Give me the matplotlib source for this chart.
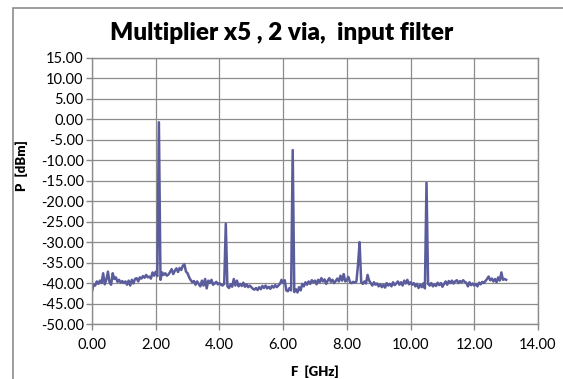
import numpy as np
import matplotlib.pyplot as plt
from matplotlib.patches import Rectangle

# spectrum, 0.05 GHz step from 0 to 13 GHz
f_start = 0.0
f_step = 0.05
p_dbm = [
    # 0.00 - 0.95
    -42.0, -40.3, -40.6, -39.6, -40.2, -39.4, -40.0, -37.6, -40.3, -39.2,
    -37.2, -39.8, -40.4, -37.6, -39.0, -38.6, -39.7, -39.2, -39.9, -39.5,
    # 1.00 - 1.95
    -40.0, -39.6, -40.4, -39.4, -40.6, -39.2, -40.1, -39.0, -38.8, -39.6,
    -38.6, -38.9, -38.3, -38.7, -38.0, -38.6, -38.4, -38.9, -37.4, -38.2,
    # 2.00 - 2.95
    -37.2, -38.3, -0.7, -39.2, -37.4, -38.0, -37.6, -38.2, -37.9, -37.3,
    -36.6, -37.8, -37.0, -36.4, -37.3, -36.3, -36.8, -35.8, -35.4, -37.2,
    # 3.00 - 3.95
    -37.6, -38.6, -39.3, -39.8, -39.5, -40.4, -39.6, -40.2, -40.8, -39.4,
    -40.6, -39.0, -41.3, -39.4, -40.0, -39.2, -40.4, -40.1, -39.7, -40.3,
    # 4.00 - 4.95
    -40.0, -40.4, -40.6, -40.2, -25.5, -40.8, -41.2, -40.3, -40.9, -39.0,
    -40.6, -39.4, -40.8, -40.2, -40.7, -39.9, -40.9, -40.3, -41.0, -40.6,
    # 5.00 - 5.95
    -41.0, -41.4, -41.6, -41.2, -41.7, -41.0, -41.5, -40.7, -41.2, -40.6,
    -41.3, -40.9, -41.4, -40.7, -41.1, -40.5, -41.0, -40.6, -40.2, -39.2,
    # 6.00 - 6.95
    -40.0, -39.3, -41.8, -42.0, -41.2, -41.8, -7.5, -42.2, -41.5, -42.3,
    -41.0, -41.8, -40.2, -40.8, -39.8, -40.4, -39.6, -40.2, -39.3, -39.8,
    # 7.00 - 7.95
    -39.4, -40.3, -39.2, -39.8, -38.8, -39.6, -39.1, -40.2, -39.4, -38.8,
    -39.7, -39.2, -40.0, -39.5, -38.9, -39.6, -38.2, -39.4, -37.8, -39.6,
    # 8.00 - 8.95
    -39.2, -38.5, -39.8, -40.0, -39.7, -39.9, -39.6, -35.5, -30.0, -39.8,
    -40.2, -39.6, -40.1, -38.0, -39.4, -40.0, -40.6, -39.8, -40.4, -40.1,
    # 9.00 - 9.95
    -40.8, -40.3, -41.0, -40.4, -41.1, -40.0, -40.6, -40.2, -40.8, -39.8,
    -40.5, -40.1, -39.6, -40.4, -39.8, -40.6, -39.4, -40.1, -39.2, -40.3,
    # 10.00 - 10.95
    -39.8, -40.4, -40.0, -40.8, -40.2, -41.2, -40.4, -41.0, -40.1, -41.3,
    -15.5, -40.2, -40.6, -40.0, -40.8, -40.3, -40.7, -39.9, -40.5, -40.0,
    # 11.00 - 11.95
    -40.9, -40.2, -39.6, -40.4, -39.5, -40.0, -39.4, -40.1, -39.6, -39.3,
    -40.0, -39.5, -39.8, -39.3, -39.7, -39.9, -40.8, -39.8, -40.5, -40.1,
    # 12.00 - 12.95
    -40.6, -40.2, -40.8, -39.9, -40.3, -39.7, -40.0, -39.5, -39.0, -38.4,
    -39.3, -38.9, -39.6, -39.0, -39.8, -38.6, -39.4, -37.4, -39.2, -39.0,
    # 13.00
    -39.2,
]
freq_ghz = f_start + f_step * np.arange(len(p_dbm))

x_ticks = [0, 2, 4, 6, 8, 10, 12, 14]
y_ticks = list(range(-50, 16, 5))

plt.rcParams['font.family'] = ['Lato', 'DejaVu Sans']

fig = plt.figure(figsize=(5.63, 3.79), dpi=100)
ax = fig.add_axes([92 / 563, 1 - 324 / 379, 446 / 563, 266 / 379])

ax.plot(freq_ghz, p_dbm, color='#5b5c9c', lw=1.8)

ax.set_xlim(0, 14)
ax.set_ylim(-50, 15)
ax.set_xticks(x_ticks)
ax.set_yticks(y_ticks)
ax.set_xticklabels(['%.2f' % v for v in x_ticks])
ax.set_yticklabels(['%.2f' % v for v in y_ticks])
ax.tick_params(axis='both', labelsize=10.5, color='#888888', length=4, width=1, labelcolor='#000000')
ax.tick_params(axis='x', pad=6)
ax.tick_params(axis='y', pad=2)
ax.grid(True, color='#8c8c8c', lw=0.9)
ax.set_axisbelow(True)
for s in ax.spines.values():
    s.set_color('#8c8c8c')
    s.set_linewidth(1)

fig.text(282 / 563, 1 - 33 / 379, 'Multiplier x5 , 2 via,  input filter',
         ha='center', va='center', fontsize=17.5, fontweight='heavy')
fig.text(315 / 563, 1 - 372 / 379, 'F  [GHz]', ha='center', va='center',
         fontsize=9.5, fontweight='heavy')
fig.text(22 / 563, 1 - 166 / 379, 'P  [dBm]', ha='center', va='center',
         rotation=90, fontsize=9.5, fontweight='heavy')

# outer chart frame
fig.add_artist(Rectangle((13 / 563, -0.2), 1.2, 1 - 8 / 379 + 0.2,
                         transform=fig.transFigure, fill=False,
                         edgecolor='#8c8c8c', lw=1.2))

fig.savefig('out.png', dpi=100)
